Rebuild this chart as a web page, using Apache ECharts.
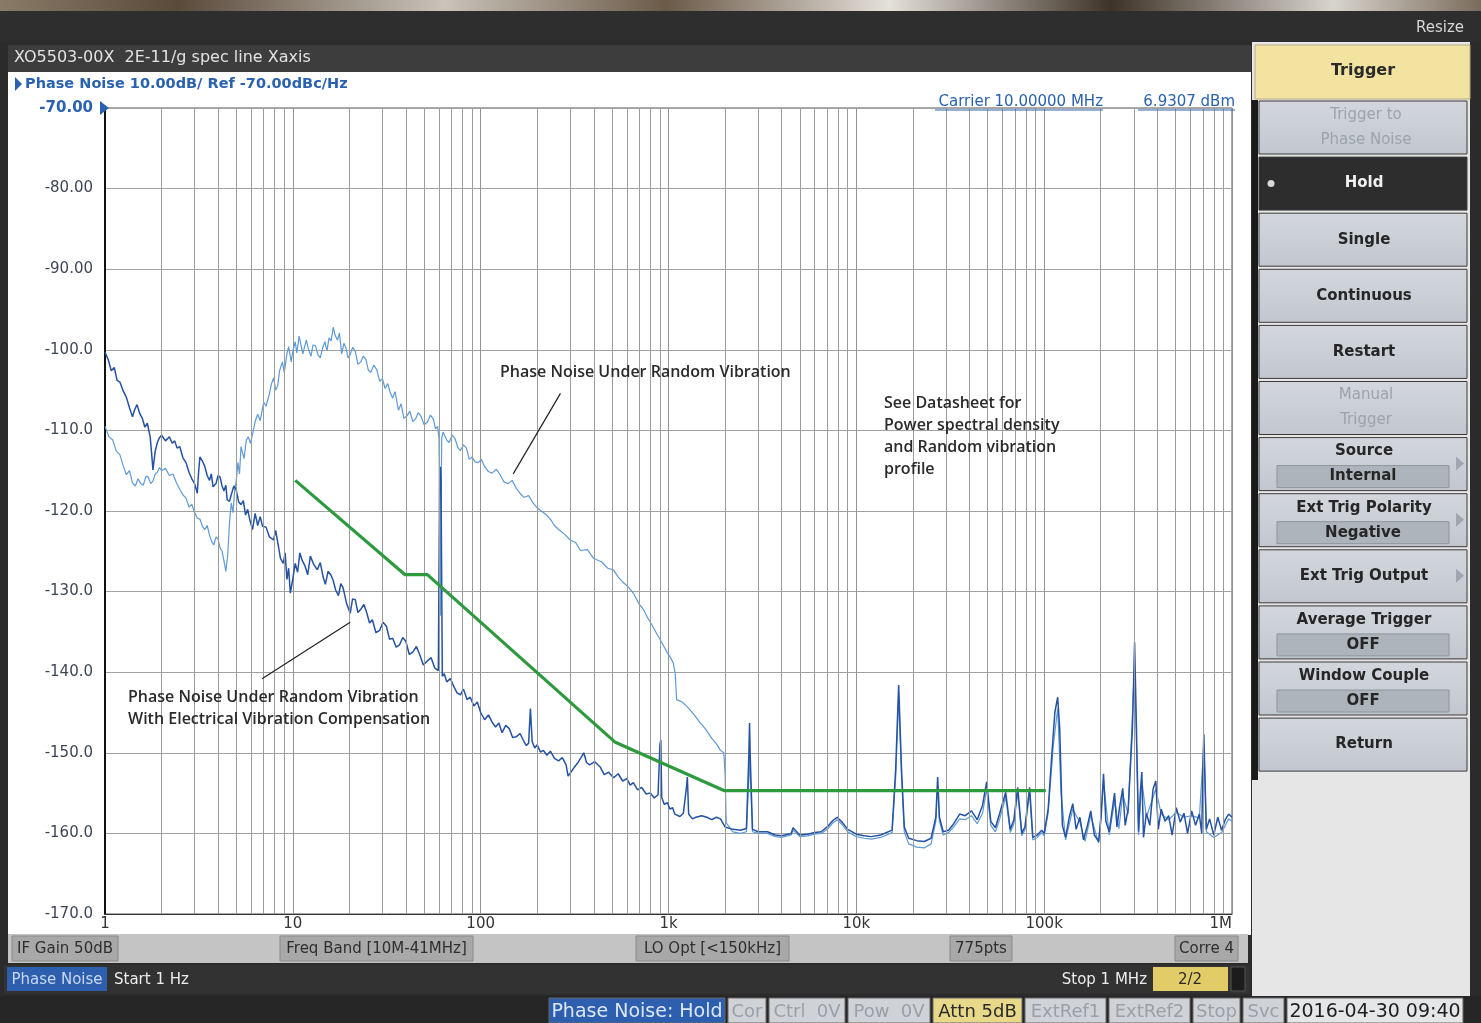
<!DOCTYPE html>
<html><head><meta charset="utf-8">
<script src="https://cdn.jsdelivr.net/npm/echarts@6.0.0/dist/echarts.min.js"></script>
<style>html,body{margin:0;padding:0;background:#2b2b2b;}#c{width:1481px;height:1023px;}</style>
</head><body><div id="c"></div>
<script>
// ---------------- data ----------------
const xTickLabels = ['1', '10', '100', '1k', '10k', '100k', '1M'];
const yMin = -170, yMax = -70, yStep = 10;
const minorMultipliers = [2, 3, 4, 5, 6, 7, 8, 9];
const decades = [1, 10, 100, 1000, 10000, 100000];

// Phase noise under random vibration (light trace) [Hz, dBc/Hz]
const vibrationTrace = [
 [1,-109.5],[1.05,-110.8],[1.1,-111.2],[1.15,-112.6],[1.2,-113],[1.25,-114.4],[1.3,-115.5],[1.35,-115],[1.4,-116.5],[1.45,-116.9],
 [1.5,-116],[1.55,-116.6],[1.6,-116.8],[1.65,-115.7],[1.7,-115.8],[1.75,-116.6],[1.8,-116.3],[1.85,-115.4],[1.9,-115.2],[1.95,-114.6],
 [2.0,-115],[2.1,-114.7],[2.2,-115.6],[2.3,-115.4],[2.4,-116.5],[2.5,-117.3],[2.6,-118],[2.7,-118.4],[2.8,-119.5],[2.9,-119.2],
 [3.0,-120.2],[3.1,-120.9],[3.2,-121],[3.3,-121.9],[3.4,-122.3],[3.5,-121.8],[3.6,-123],[3.7,-123.8],[3.8,-124.2],[3.9,-123.2],
 [4.0,-123.5],[4.1,-124.6],[4.2,-125],[4.3,-126.2],[4.4,-127.5],[4.5,-125.5],[4.6,-121.5],[4.7,-119],[4.8,-120.2],[4.9,-117.5],
 [5.0,-116.2],[5.1,-114],[5.2,-115.4],[5.3,-112],[5.4,-112.8],[5.5,-113.5],[5.65,-111.2],[5.8,-110.8],[5.95,-111.6],[6.1,-110.5],
 [6.3,-108.9],[6.5,-108],[6.7,-108.8],[7.0,-106.5],[7.2,-107],[7.5,-105.5],[7.7,-104.2],[7.9,-103.5],[8.1,-105],[8.3,-104.5],
 [8.5,-102.6],[8.8,-101.5],[9.0,-102.8],[9.3,-100.5],[9.5,-99.6],[9.8,-101.5],[10.0,-100.2],[10.3,-99],[10.5,-100.4],[10.8,-98.3],
 [11.0,-99.2],[11.3,-100.5],[11.5,-99.8],[11.8,-98.8],[12.1,-99.9],[12.5,-100.8],[12.8,-99.4],[13.2,-99.5],[13.6,-100.6],[14,-101],
 [14.4,-99.8],[14.8,-99],[15.2,-100.1],[15.6,-98.5],[16.0,-98.9],[16.4,-97.2],[16.8,-98.2],[17.3,-98.8],[17.7,-97.9],[18.2,-100.5],
 [18.7,-99.2],[19.2,-99.8],[19.7,-101],[20.2,-100.6],[20.8,-99.7],[21.5,-100.2],[22.2,-101.8],[23,-101.5],[23.7,-100.8],[24.5,-101.2],
 [25.2,-102.5],[26,-102.8],[27,-101.9],[28,-102.5],[29,-103.9],[30,-103.6],[31,-104.8],[32,-104.2],[33,-105.3],[34,-106],
 [35,-105.2],[36.5,-107.5],[37.7,-106.7],[39,-108.5],[40.5,-108.2],[42,-107.6],[43.5,-108.9],[45,-108.6],[46.5,-107.8],[48,-108.2],
 [50,-109.3],[52,-109],[54,-108.1],[56,-108.6],[57.5,-109.8],[59,-109.5],[60,-111],[61,-133],[62,-111],[63,-110.2],
 [64,-110],[66,-111.2],[68,-111.5],[70.5,-110.6],[73,-111],[75.5,-112.1],[78,-112.5],[81,-111.8],[84,-112.2],[87,-113.6],
 [90,-113.3],[93.5,-113.9],[97,-114],[101,-113.6],[105,-114.5],[110,-115.1],[115,-115.3],[121,-114.8],[127,-115.5],[133,-116.4],
 [140,-116.6],[147,-116.2],[155,-117.2],[162,-117.8],[170,-118.3],[180,-118.1],[190,-119],[200,-119.6],[210,-120],[222,-120.4],
 [235,-121],[247,-121.8],[260,-122.3],[280,-122.9],[300,-123.6],[320,-123.9],[340,-124.9],[370,-124.8],[400,-125.9],[440,-126.3],
 [475,-127.1],[509,-127.3],[540,-128.2],[570,-128.8],[610,-129.4],[650,-130.2],[700,-131.6],[740,-132.3],[772,-133.2],[820,-134.2],
 [860,-135.1],[906,-136],[950,-136.9],[986,-137.6],[1020,-138.1],[1062,-138.9],[1085,-140.1],[1105,-143.4],[1180,-143.7],[1260,-144.3],
 [1360,-145.2],[1475,-146.3],[1580,-147.1],[1700,-148.2],[1800,-148.9],[1891,-149.7],[1970,-150],[2000,-152.5],[2030,-158.7],[2200,-159.8],
 [2415,-160],[2600,-159.8],[2690,-152],[2700,-148],[2715,-152],[2800,-159.8],[3000,-160],[3365,-160],[3700,-160.4],[4000,-160.5],
 [4500,-160.2],[4600,-159.6],[5000,-160.4],[5500,-160.3],[6000,-160.1],[6500,-160],[7000,-159.5],[7500,-158.7],[7900,-158.3],[8400,-158.9],
 [9000,-159.8],[10000,-160.4],[11000,-160.6],[12000,-160.7],[13500,-160.5],[15500,-159.9],[16200,-153],[16800,-143],[17400,-153],[18000,-159.8],
 [19000,-161.3],[21000,-161.7],[23000,-161.8],[25000,-161.3],[26500,-158.5],[27100,-154],[27700,-158.5],[29000,-160.2],[31000,-159.9],[33000,-159.2],
 [35500,-158.2],[38000,-158.3],[41000,-157.8],[44000,-158.8],[47000,-157.5],[49400,-154.5],[52000,-159],[55000,-159.8],[58000,-158.2],[62400,-155.5],
 [66000,-159.9],[69000,-158.8],[72300,-155],[76000,-160.3],[79000,-159.6],[83700,-155],[87000,-160.8],[92000,-160.5],[97000,-159.9],[100000,-160.3],
 [105000,-157.5],[112000,-149],[118000,-144.5],[123000,-155],[130000,-160.8],[142000,-157],[155000,-158.6],[165000,-161],[177000,-157.8],[195000,-161.2],
 [207000,-153.5],[222000,-160.2],[237000,-156],[250000,-159.4],[262000,-155.2],[280000,-157.6],[303000,-139],[318000,-160.2],[331000,-153.4],[350000,-158],
 [393000,-154.5],[420000,-157.6],[460000,-158.3],[505000,-157.4],[555000,-158],[610000,-157.8],[670000,-158.1],[708000,-149],[730000,-159.8],[800000,-160.5],
 [880000,-159.9],[960000,-158.2],[1000000,-158.5]
];

// Phase noise with electrical vibration compensation (dark trace) [Hz, dBc/Hz]
const compensatedTrace = [
 [1,-100.3],[1.04,-101.2],[1.08,-102.6],[1.12,-102.2],[1.16,-103.8],[1.2,-104],[1.25,-105.1],[1.3,-105.9],[1.35,-107.2],[1.4,-108.3],
 [1.44,-107.4],[1.48,-106.8],[1.53,-107.9],[1.58,-108.5],[1.63,-109.6],[1.68,-109.1],[1.74,-110.8],[1.77,-112.8],[1.8,-114.9],[1.85,-112.6],
 [1.9,-111.5],[1.95,-110.9],[2.0,-110.6],[2.1,-111.3],[2.2,-110.8],[2.28,-111.6],[2.35,-111.3],[2.42,-112.2],[2.5,-112],[2.6,-113.4],
 [2.7,-114],[2.8,-115.2],[2.9,-116],[3.0,-116.6],[3.1,-117.8],[3.15,-115.2],[3.2,-113.3],[3.3,-113.8],[3.4,-114.5],[3.5,-115.6],
 [3.6,-116.2],[3.68,-115.4],[3.76,-117],[3.9,-116.6],[4.0,-115.6],[4.1,-115.8],[4.2,-116.9],[4.3,-117.5],[4.4,-116.8],[4.47,-118.6],
 [4.6,-118.8],[4.7,-118],[4.85,-116.9],[5.0,-117.4],[5.15,-118.9],[5.3,-119.2],[5.45,-118.7],[5.6,-120.5],[5.75,-119.8],[5.9,-121.1],
 [6.1,-122.3],[6.3,-120.3],[6.5,-121.8],[6.7,-120.7],[6.9,-121.9],[7.2,-122],[7.5,-123.2],[7.9,-123.6],[8.1,-122.4],[8.4,-124.5],
 [8.6,-125.9],[8.9,-126.5],[9.1,-125.2],[9.3,-128.5],[9.5,-127.1],[9.7,-130.2],[10.0,-128.4],[10.3,-126.5],[10.6,-127.6],[10.9,-125.2],
 [11.2,-126.1],[11.6,-126.8],[12.0,-127.9],[12.4,-125.6],[12.9,-126.6],[13.5,-127.3],[14.0,-126.4],[14.5,-128.2],[14.9,-129.1],[15.4,-127.5],
 [15.9,-127.9],[16.4,-128.6],[16.9,-129.8],[17.5,-130.5],[18.0,-129],[18.5,-129.5],[19.3,-131.4],[20.2,-132.7],[20.8,-130.9],[21.5,-131],
 [22.2,-132.6],[23,-132.2],[23.9,-131.6],[24.8,-132.7],[25.6,-133.9],[26.5,-133.5],[27.7,-135.1],[29,-134.8],[30.2,-133.8],[31.5,-134.3],
 [32.7,-135.9],[34,-135.8],[35.5,-136.9],[37,-136.6],[38.5,-135.7],[40,-136.2],[41.7,-137.8],[43.5,-137.5],[45.5,-136.8],[47.5,-137.9],
 [49.5,-139.1],[52,-138.6],[54.5,-138.2],[57,-139.5],[59.5,-139.8],[60.5,-116],[61,-114.5],[61.5,-116],[62.5,-140.5],[64,-140.2],
 [66,-141.2],[69,-140.8],[72,-141.8],[75,-142.6],[78,-142.8],[81,-142.1],[84.6,-143.4],[88,-143.1],[92,-144.2],[96,-143.7],
 [100,-145],[105,-145.9],[110,-145.3],[115,-146.2],[120,-146.8],[125,-146.3],[130,-147.5],[136,-146.6],[142,-147],[148,-148.1],
 [155,-148],[162,-147.6],[170,-148.6],[175,-149.1],[180,-148.8],[184,-144.5],[188,-148.6],[194,-149.4],[200,-149],[208,-149.9],
 [216,-149.7],[225,-150.3],[235,-149.8],[247,-150.7],[260,-151],[272,-150.6],[285,-151.5],[292,-152.9],[300,-152.5],[315,-151.8],
 [330,-151.2],[342,-150.6],[354,-150],[366,-151.2],[380,-151.5],[405,-151.1],[434,-151.8],[455,-152.7],[480,-152.4],[510,-153.1],
 [540,-152.6],[570,-153.5],[600,-153.2],[625,-154],[650,-153.7],[685,-154.6],[720,-154.3],[760,-155.1],[800,-155],[840,-155.6],
 [880,-155.2],[900,-149],[910,-148.4],[920,-155.5],[950,-156.4],[986,-156.2],[1020,-157],[1050,-156.8],[1080,-157.6],[1105,-157.5],
 [1150,-157.9],[1200,-157.5],[1250,-154],[1260,-153],[1280,-157.6],[1340,-158.2],[1400,-158],[1500,-157.8],[1600,-158],[1700,-158.3],
 [1800,-158],[1891,-158.2],[2000,-159.2],[2200,-159.5],[2415,-159.6],[2600,-159.4],[2680,-150],[2700,-146.3],[2720,-150],[2800,-159.5],
 [3000,-159.8],[3365,-159.8],[3700,-160.2],[4000,-160.3],[4500,-160],[4600,-159.3],[5000,-160.2],[5500,-160.1],[6000,-159.9],[6500,-159.8],
 [7000,-159.2],[7500,-158.4],[7900,-158],[8400,-158.6],[9000,-159.5],[10000,-160.1],[11000,-160.3],[12000,-160.4],[13500,-160.2],[15500,-159.6],
 [16200,-152],[16800,-141.6],[17400,-152],[18000,-159.2],[19000,-160.6],[21000,-160.9],[23000,-161],[25000,-160.6],[26500,-158],[27100,-153],
 [27700,-158],[29000,-159.8],[31000,-159.6],[33000,-158.8],[35500,-157.6],[38000,-157.8],[41000,-157.2],[44000,-158.3],[47000,-156.5],[49400,-153.6],
 [52000,-158.5],[55000,-159.3],[58000,-157.5],[62400,-154.9],[66000,-159.5],[69000,-158.3],[72300,-154.3],[76000,-160],[79000,-159.2],[83700,-154.3],
 [87000,-160.5],[92000,-160.2],[97000,-159.6],[100000,-160],[105000,-157],[110000,-150],[114000,-145],[118000,-143.1],[121000,-147],[125000,-159],
 [130000,-160.5],[136000,-158],[142000,-156.3],[148000,-159.5],[155000,-158],[162000,-160.8],[170000,-159],[177000,-157.2],[185000,-160.2],[195000,-161],
 [201000,-158],[207000,-152.6],[213000,-158.5],[222000,-159.8],[230000,-157.2],[237000,-155],[244000,-159.2],[252000,-156.8],[262000,-154.4],[270000,-159],
 [280000,-157],[295000,-147],[303000,-136.3],[310000,-147],[318000,-159.8],[325000,-155],[331000,-152.4],[338000,-160.5],[350000,-157.5],[365000,-159],
 [380000,-154.5],[393000,-153.5],[405000,-159.5],[420000,-157],[440000,-158.5],[460000,-157.8],[480000,-160.2],[505000,-156.8],[530000,-158.6],[555000,-157.5],
 [580000,-160],[610000,-157.2],[640000,-159],[670000,-157.6],[690000,-160],[700000,-152],[708000,-147.7],[716000,-152],[730000,-159.5],[760000,-158.2],
 [800000,-160.2],[840000,-158],[880000,-159.6],[920000,-158.3],[960000,-157.6],[1000000,-158]
];

// Green specification line [Hz, dBc/Hz]
const specLine = [[10.3,-116.2],[39.6,-127.9],[52,-127.9],[521,-148.7],[1986,-154.7],[102000,-154.7]];

// Annotation pointer lines [[from],[to]] in data space
const pointerUncomp = [[266,-105.4],[149,-115.4]];
const pointerComp = [[20.2,-133.8],[6.86,-140.8]];

// UI texts
const menuButtons = [
 {label:'Trigger to\nPhase Noise', kind:'disabled'},
 {label:'Hold', kind:'active'},
 {label:'Single'},
 {label:'Continuous'},
 {label:'Restart'},
 {label:'Manual\nTrigger', kind:'disabled'},
 {label:'Source', value:'Internal', arrow:true},
 {label:'Ext Trig Polarity', value:'Negative', arrow:true},
 {label:'Ext Trig Output', arrow:true},
 {label:'Average Trigger', value:'OFF'},
 {label:'Window Couple', value:'OFF'},
 {label:'Return'}
];
const infoBoxes = [
 {text:'IF Gain 50dB', x:12, w:106},
 {text:'Freq Band [10M-41MHz]', x:280, w:193},
 {text:'LO Opt [<150kHz]', x:636, w:153},
 {text:'775pts', x:950, w:62},
 {text:'Corre 4', x:1175, w:63}
];
const statusBoxes = [
 {text:'Phase Noise: Hold', x:549, w:176, bg:'#2d5fae', fg:'#dce6f6'},
 {text:'Cor', x:728, w:38, bg:'#cfd2d6', fg:'#9aa0a8'},
 {text:'Ctrl  0V', x:769, w:76, bg:'#cfd2d6', fg:'#9aa0a8'},
 {text:'Pow  0V', x:848, w:82, bg:'#cfd2d6', fg:'#9aa0a8'},
 {text:'Attn 5dB', x:933, w:89, bg:'#e8d88a', fg:'#2a2a2a'},
 {text:'ExtRef1', x:1025, w:81, bg:'#cfd2d6', fg:'#9aa0a8'},
 {text:'ExtRef2', x:1109, w:81, bg:'#cfd2d6', fg:'#9aa0a8'},
 {text:'Stop', x:1193, w:47, bg:'#cfd2d6', fg:'#9aa0a8'},
 {text:'Svc', x:1243, w:41, bg:'#cfd2d6', fg:'#9aa0a8'},
 {text:'2016-04-30 09:40', x:1287, w:176, bg:'#e4e6e8', fg:'#1e1e1e'}
];

// ---------------- chart ----------------
const minorFreqs = [];
decades.forEach(d => minorMultipliers.forEach(m => minorFreqs.push(d * m)));

const UI = 'DejaVu Sans';
const G = [];
function R(x, y, w, h, fill, stroke, z, lw) {
  G.push({type:'rect', silent:true, z: z == null ? -10 : z,
    shape:{x, y, width:w, height:h}, style:{fill, stroke: stroke || null, lineWidth: lw || 1}});
}
function T(x, y, text, font, fill, align, z) {
  G.push({type:'text', silent:true, z: z == null ? 50 : z,
    style:{x, y, text, font, fill, align: align || 'left', verticalAlign:'middle'}});
}

// frame
R(0, 0, 1481, 1023, '#2b2b2b');
R(0, 0, 1481, 11, {type:'linear', x:0, y:0, x2:1, y2:0, colorStops:[
  {offset:0, color:'#8a7a68'}, {offset:0.12, color:'#5a4a3a'}, {offset:0.3, color:'#c9c3ba'},
  {offset:0.45, color:'#6b5a48'}, {offset:0.6, color:'#e4e0da'}, {offset:0.75, color:'#3e3328'},
  {offset:0.9, color:'#d8d4ce'}, {offset:1, color:'#7a6c5c'}]});
R(0, 11, 1481, 31, '#2e2e2e');
T(1464, 28, 'Resize', '15px ' + UI, '#d6d6d6', 'right');
R(8, 45, 1243, 27, '#3d3d3d');
T(14, 58, 'XO5503-00X  2E-11/g spec line Xaxis', '16px ' + UI, '#e2e2e2');
R(8, 72, 1243, 863, '#ffffff');
G.push({type:'polygon', silent:true, z:50, shape:{points:[[15,77],[15,91],[22,84]]}, style:{fill:'#2a62b0'}});
T(25, 84, 'Phase Noise 10.00dB/ Ref -70.00dBc/Hz', '600 14.5px ' + UI, '#2a62b0');
T(1103, 102, 'Carrier 10.00000 MHz', '15px ' + UI, '#2a62b0', 'right');
T(1235, 102, '6.9307 dBm', '15px ' + UI, '#2a62b0', 'right');
G.push({type:'line', silent:true, z:50, shape:{x1:935, y1:110, x2:1103, y2:110}, style:{stroke:'#2a62b0', lineWidth:1}});
G.push({type:'line', silent:true, z:50, shape:{x1:1138, y1:110, x2:1235, y2:110}, style:{stroke:'#2a62b0', lineWidth:1}});
G.push({type:'polygon', silent:true, z:50, shape:{points:[[100,101],[100,115],[109,108]]}, style:{fill:'#2a62b0'}});

// bottom info row
R(8, 934, 1240, 29, '#c4c4c4');
infoBoxes.forEach(b => {
  R(b.x, 936, b.w, 25, '#a8a8a8', '#8a8a8a', -9);
  T(b.x + b.w / 2, 949, b.text, '15px ' + UI, '#2e2e2e', 'center');
});
R(4, 965, 1246, 29, '#323232');
R(7, 967, 100, 24, '#2d5fae', null, -9);
T(57, 980, 'Phase Noise', '15px ' + UI, '#c9d8f2', 'center');
T(114, 980, 'Start 1 Hz', '15px ' + UI, '#ececec');
T(1147, 980, 'Stop 1 MHz', '15px ' + UI, '#ececec', 'right');
R(1153, 967, 75, 24, '#e2cc68', null, -9);
T(1190, 980, '2/2', '15px ' + UI, '#2a2a2a', 'center');
R(1231, 967, 14, 24, '#1c1c1c', '#555', -9);
// status row
R(0, 996, 1481, 27, '#262626');
statusBoxes.forEach(b => {
  R(b.x, 998, b.w, 25, b.bg, '#666', -9);
  T(b.x + b.w / 2, 1012, b.text, (b.text.length > 12 ? '19px ' : '18px ') + UI, b.fg, 'center');
});

// right menu panel
R(1252, 42, 222, 954, '#e6e6e6');
R(1470, 42, 11, 954, '#2b2b2b');
R(1255, 45, 215, 54, '#f2e4a0', '#b8ae80', -9);
T(1363, 71, 'Trigger', 'bold 16px ' + UI, '#2a2a2a', 'center');
R(1252, 100, 6, 680, '#1a1a1a', null, -9);
menuButtons.forEach((b, i) => {
  const y = 101 + i * 56.1, h = 53;
  let bg = {type:'linear', x:0, y:0, x2:0, y2:1, colorStops:[{offset:0, color:'#d3d7dd'}, {offset:1, color:'#c2c7cf'}]};
  let fg = '#262626';
  if (b.kind === 'disabled') fg = '#9ca3ab';
  if (b.kind === 'active') { bg = '#2d2d2d'; fg = '#f0f0f0'; }
  R(1259, y, 208, h, bg, '#3a3a3a', -9);
  const font = 'bold 15px ' + UI;
  if (b.value) {
    T(1364, y + 14, b.label, font, fg, 'center');
    R(1277, y + 28, 172, 22, '#aeb4bc', '#8e949c', -8);
    T(1363, y + 39, b.value, font, fg, 'center');
  } else if (b.label.indexOf('\n') >= 0) {
    const parts = b.label.split('\n');
    T(1366, y + 14, parts[0], '15px ' + UI, fg, 'center');
    T(1366, y + 39, parts[1], '15px ' + UI, fg, 'center');
  } else {
    T(1364, y + h / 2, b.label, font, fg, 'center');
  }
  if (b.kind === 'active') G.push({type:'circle', silent:true, z:50, shape:{cx:1271, cy:y + h / 2, r:3.5}, style:{fill:'#d8d8d8'}});
  if (b.arrow) G.push({type:'polygon', silent:true, z:50, shape:{points:[[1456, y + 19], [1456, y + 33], [1464, y + 26]]}, style:{fill:'#a0a6ae'}});
});

// annotation texts
const AF = '600 16px "Open Sans"';
T(500, 372, 'Phase Noise Under Random Vibration', AF, '#2a2a2a');
['See Datasheet for', 'Power spectral density', 'and Random vibration', 'profile'].forEach((s, i) =>
  T(884, 403 + i * 22, s, AF, '#2a2a2a'));
T(128, 697, 'Phase Noise Under Random Vibration', AF, '#2a2a2a');
T(128, 719, 'With Electrical Vibration Compensation', AF, '#2a2a2a');

const chart = echarts.init(document.getElementById('c'), null, {renderer:'canvas'});
chart.setOption({
  animation:false,
  backgroundColor:'transparent',
  grid:{left:105, top:108, right:249, bottom:109, show:true, backgroundColor:'#ffffff', borderColor:'#555', borderWidth:1, outerBoundsMode:'none', containLabel:false},
  xAxis:{
    type:'log', logBase:10, min:1, max:1e6,
    axisLine:{show:true, lineStyle:{color:'#333', width:1}},
    axisTick:{show:false},
    splitLine:{show:true, lineStyle:{color:'#949494', width:1}},
    minorTick:{show:false}, minorSplitLine:{show:false},
    axisLabel:{color:'#333', fontFamily:UI, fontSize:15, margin:3, alignMaxLabel:'right',
      formatter: v => xTickLabels[Math.round(Math.log10(v))]}
  },
  yAxis:{
    type:'value', min:yMin, max:yMax, interval:yStep,
    axisLine:{show:true, lineStyle:{color:'#111', width:2}},
    axisTick:{show:false},
    splitLine:{show:true, lineStyle:{color:'#a2a2a2', width:1}},
    axisLabel:{fontFamily:UI, fontSize:15, margin:12, color:'#3d4658',
      formatter: v => v === yMax ? '{ref|' + v.toFixed(2) + '}' : (v > -100 ? v.toFixed(2) : v.toFixed(1)),
      rich:{ref:{color:'#2a62b0', fontFamily:UI, fontSize:15, fontWeight:600}}}
  },
  graphic:{elements:G},
  series:[
    {type:'line', name:'grid', data:[], silent:true, z:1,
     markLine:{silent:true, symbol:['none','none'], label:{show:false}, animation:false,
       lineStyle:{color:'#9c9c9c', width:1, type:'solid'},
       data: minorFreqs.map(f => ({xAxis:f}))}},
    {type:'line', name:'Phase Noise Under Random Vibration', data:vibrationTrace, showSymbol:false, z:3,
     lineStyle:{color:'#5d9ad6', width:1.2}},
    {type:'line', name:'With Electrical Vibration Compensation', data:compensatedTrace, showSymbol:false, z:4,
     lineStyle:{color:'#2552a3', width:1.5}},
    {type:'line', name:'Spec', data:specLine, showSymbol:false, z:5,
     lineStyle:{color:'#2e9a3e', width:3.2}},
    {type:'line', name:'pointers', data:[], silent:true, z:6,
     markLine:{silent:true, symbol:['none','none'], label:{show:false}, animation:false,
       lineStyle:{color:'#222', width:1.2, type:'solid'},
       data:[[{coord:pointerUncomp[0]}, {coord:pointerUncomp[1]}], [{coord:pointerComp[0]}, {coord:pointerComp[1]}]]}}
  ]
});
</script></body></html>
